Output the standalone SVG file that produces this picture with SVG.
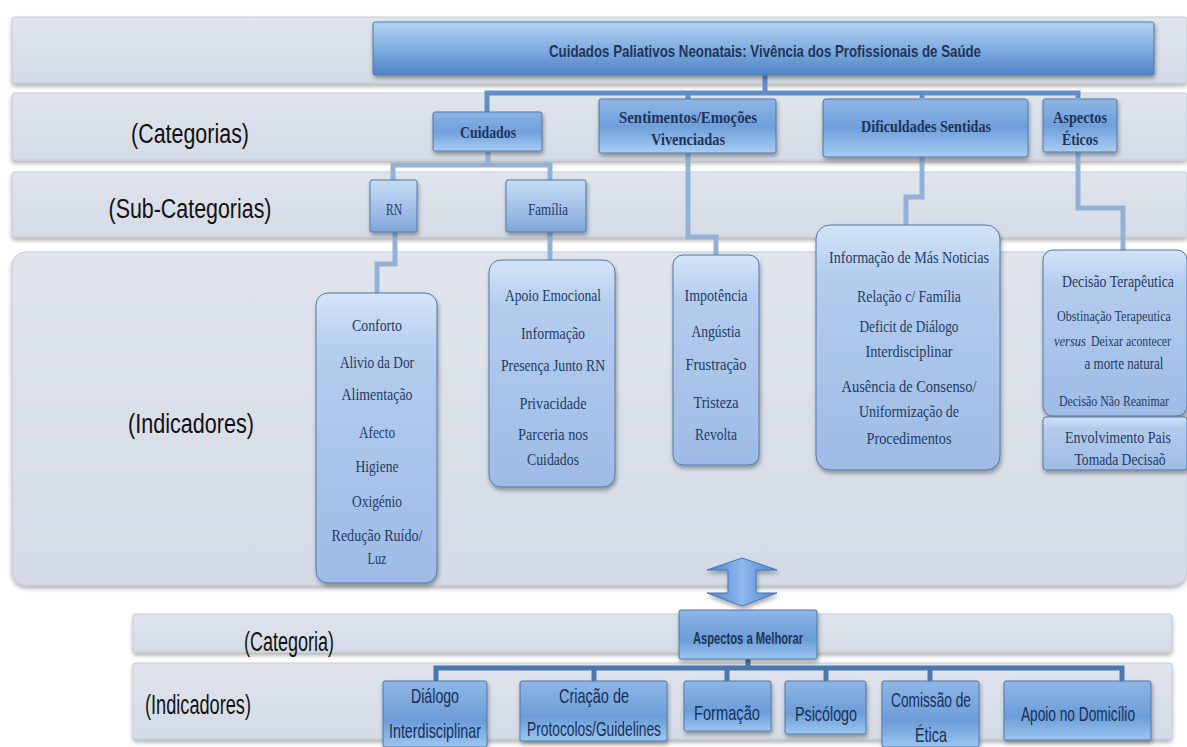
<svg xmlns="http://www.w3.org/2000/svg" width="1187" height="747" viewBox="0 0 1187 747">
<defs>
<linearGradient id="gBand" x1="0" y1="0" x2="0" y2="1"><stop offset="0" stop-color="#dfe4ed"/><stop offset="1" stop-color="#d5dbe6"/></linearGradient>
<linearGradient id="gTitle" x1="0" y1="0" x2="0" y2="1"><stop offset="0" stop-color="#b5d3f3"/><stop offset="0.45" stop-color="#86b1e4"/><stop offset="1" stop-color="#4e83c4"/></linearGradient>
<linearGradient id="gCat" x1="0" y1="0" x2="0" y2="1"><stop offset="0" stop-color="#8db6e6"/><stop offset="0.5" stop-color="#6f9fdb"/><stop offset="1" stop-color="#a7cdf3"/></linearGradient>
<linearGradient id="gSub" x1="0" y1="0" x2="0" y2="1"><stop offset="0" stop-color="#c6dcf4"/><stop offset="0.5" stop-color="#a5c3ea"/><stop offset="1" stop-color="#7fa6d8"/></linearGradient>
<linearGradient id="gInd" x1="0" y1="0" x2="0" y2="1"><stop offset="0" stop-color="#d4e4f7"/><stop offset="0.2" stop-color="#b4cdee"/><stop offset="1" stop-color="#9dbbe5"/></linearGradient>
<linearGradient id="gBot" x1="0" y1="0" x2="0" y2="1"><stop offset="0" stop-color="#8fb6e6"/><stop offset="0.6" stop-color="#6c9dd8"/><stop offset="1" stop-color="#9cc6f0"/></linearGradient>
<linearGradient id="gArrow" x1="0" y1="0" x2="1" y2="0"><stop offset="0" stop-color="#4a84d0"/><stop offset="0.5" stop-color="#8fb8ee"/><stop offset="1" stop-color="#4a84d0"/></linearGradient>
<filter id="sh" x="-10%" y="-10%" width="130%" height="140%"><feDropShadow dx="1" dy="3" stdDeviation="2" flood-color="#000" flood-opacity="0.35"/></filter>
<filter id="shb" x="-5%" y="-10%" width="110%" height="140%"><feDropShadow dx="0" dy="3" stdDeviation="2" flood-color="#000" flood-opacity="0.3"/></filter>
</defs>
<style>
.band{fill:url(#gBand);stroke:#c4cbd6;stroke-width:1}
.lbl{font-family:"Liberation Sans",Arial,sans-serif;font-size:27px;fill:#111;text-anchor:middle}
.box{stroke:#4f78a8;stroke-width:1}
.cat{font-family:"Liberation Serif","DejaVu Serif",serif;font-weight:bold;font-size:17px;fill:#1f3457;text-anchor:middle}
.sans{font-family:"Liberation Sans",Arial,sans-serif}
.ind{font-family:"Liberation Serif","DejaVu Serif",serif;font-size:17px;fill:#243b63;text-anchor:middle}
.et{font-size:14px}
.bot{font-family:"Liberation Sans",Arial,sans-serif;font-size:21px;fill:#16305a;text-anchor:middle}
.con{fill:none;stroke:#93b1d6;stroke-width:5}
.conD{fill:none;stroke:#5f8fc8;stroke-width:5}
.conB{fill:none;stroke:#4a78ae;stroke-width:5}
</style>
<rect width="1187" height="747" fill="#fff"/>
<g id="bands">
<rect class="band" x="12" y="17" width="1175" height="66" rx="3" filter="url(#shb)"/>
<rect class="band" x="12" y="93" width="1175" height="67" rx="3" filter="url(#shb)"/>
<rect class="band" x="12" y="172" width="1175" height="65" rx="3" filter="url(#shb)"/>
<rect class="band" x="12" y="252" width="1175" height="333" rx="14" filter="url(#shb)"/>
<rect class="band" x="133" y="614" width="1039" height="38" rx="3" filter="url(#shb)"/>
<rect class="band" x="133" y="663" width="1039" height="76" rx="3" filter="url(#shb)"/>
</g>
<g id="labels">
<text class="lbl" x="190" y="143" textLength="118" lengthAdjust="spacingAndGlyphs">(Categorias)</text>
<text class="lbl" x="190" y="218" textLength="163" lengthAdjust="spacingAndGlyphs">(Sub-Categorias)</text>
<text class="lbl" x="191" y="433" textLength="126" lengthAdjust="spacingAndGlyphs">(Indicadores)</text>
<text class="lbl" x="289" y="651" textLength="90" lengthAdjust="spacingAndGlyphs">(Categoria)</text>
<text class="lbl" x="198" y="714" textLength="106" lengthAdjust="spacingAndGlyphs">(Indicadores)</text>
</g>
<g id="connectors">
<path class="conD" d="M765,75 V93 M487,112 V93 H1078 V98 M688,93 V99 M922,93 V98"/>
<path class="con" d="M488,152 V165 M393,180 V165 H550 V180"/>
<path class="con" d="M395,232 V264 H377 V293"/>
<path class="con" d="M550,232 V260"/>
<path class="con" d="M688,153 V237 H716 V255"/>
<path class="con" d="M922,157 V197 H906 V225"/>
<path class="con" d="M1078,152 V208 H1123 V250"/>
<path class="conB" d="M748,659 V668 M436,681 V668 H1122 V681 M594,668 V681 M727,668 V681 M826,668 V681 M930,668 V681"/>
<path d="M742,558 L777,570 H756 V593 H777 L742,606 L707,593 H728 V570 H707 Z" fill="url(#gArrow)" stroke="#3f74bd" stroke-width="1" filter="url(#sh)"/>
</g>
<g id="n-title">
<rect class="box" x="373" y="22" width="781" height="53" rx="2" fill="url(#gTitle)" filter="url(#sh)"/>
<text class="cat sans" x="765" y="57" font-size="16" textLength="432" lengthAdjust="spacingAndGlyphs">Cuidados Paliativos Neonatais: Vivência dos Profissionais de Saúde</text>
</g>
<g id="n-cuidados">
<rect class="box" x="433" y="112" width="109" height="39" rx="2" fill="url(#gCat)" filter="url(#sh)"/>
<text class="cat" x="488" y="138" textLength="56" lengthAdjust="spacingAndGlyphs">Cuidados</text>
</g>
<g id="n-sentimentos">
<rect class="box" x="599" y="99" width="177" height="54" rx="2" fill="url(#gCat)" filter="url(#sh)"/>
<text class="cat" x="688" y="123" textLength="138" lengthAdjust="spacingAndGlyphs">Sentimentos/Emoções</text>
<text class="cat" x="688" y="145" textLength="74" lengthAdjust="spacingAndGlyphs">Vivenciadas</text>
</g>
<g id="n-dificuldades">
<rect class="box" x="823" y="99" width="205" height="58" rx="3" fill="url(#gCat)" filter="url(#sh)"/>
<text class="cat" x="926" y="132" textLength="130" lengthAdjust="spacingAndGlyphs">Dificuldades Sentidas</text>
</g>
<g id="n-eticos">
<rect class="box" x="1043" y="99" width="74" height="53" rx="2" fill="url(#gCat)" filter="url(#sh)"/>
<text class="cat" x="1080" y="123" textLength="54" lengthAdjust="spacingAndGlyphs">Aspectos</text>
<text class="cat" x="1080" y="145" textLength="36" lengthAdjust="spacingAndGlyphs">Éticos</text>
</g>
<g id="n-rn">
<rect class="box" x="370" y="180" width="47" height="52" rx="2" fill="url(#gSub)" filter="url(#sh)"/>
<text class="ind" x="394" y="215" font-size="14" textLength="16" lengthAdjust="spacingAndGlyphs">RN</text>
</g>
<g id="n-familia">
<rect class="box" x="506" y="180" width="80" height="52" rx="2" fill="url(#gSub)" filter="url(#sh)"/>
<text class="ind" x="548" y="215" font-size="14" textLength="40" lengthAdjust="spacingAndGlyphs">Família</text>
</g>
<g id="n-rn-ind">
<rect class="box" x="316" y="293" width="121" height="290" rx="12" fill="url(#gInd)" filter="url(#sh)"/>
<text class="ind" x="377" y="331" textLength="50" lengthAdjust="spacingAndGlyphs">Conforto</text>
<text class="ind" x="377" y="368" textLength="74" lengthAdjust="spacingAndGlyphs">Alivio da Dor</text>
<text class="ind" x="377" y="400" textLength="71" lengthAdjust="spacingAndGlyphs">Alimentação</text>
<text class="ind" x="377" y="438" textLength="36" lengthAdjust="spacingAndGlyphs">Afecto</text>
<text class="ind" x="377" y="472" textLength="43" lengthAdjust="spacingAndGlyphs">Higiene</text>
<text class="ind" x="377" y="507" textLength="50" lengthAdjust="spacingAndGlyphs">Oxigénio</text>
<text class="ind" x="377" y="541" textLength="91" lengthAdjust="spacingAndGlyphs">Redução Ruído/</text>
<text class="ind" x="377" y="564" textLength="19" lengthAdjust="spacingAndGlyphs">Luz</text>
</g>
<g id="n-familia-ind">
<rect class="box" x="489" y="260" width="126" height="227" rx="12" fill="url(#gInd)" filter="url(#sh)"/>
<text class="ind" x="553" y="301" textLength="96" lengthAdjust="spacingAndGlyphs">Apoio Emocional</text>
<text class="ind" x="553" y="339" textLength="64" lengthAdjust="spacingAndGlyphs">Informação</text>
<text class="ind" x="553" y="371" textLength="104" lengthAdjust="spacingAndGlyphs">Presença Junto RN</text>
<text class="ind" x="553" y="409" textLength="67" lengthAdjust="spacingAndGlyphs">Privacidade</text>
<text class="ind" x="553" y="440" textLength="70" lengthAdjust="spacingAndGlyphs">Parceria nos</text>
<text class="ind" x="553" y="465" textLength="52" lengthAdjust="spacingAndGlyphs">Cuidados</text>
</g>
<g id="n-sent-ind">
<rect class="box" x="673" y="255" width="86" height="210" rx="10" fill="url(#gInd)" filter="url(#sh)"/>
<text class="ind" x="716" y="301" textLength="63" lengthAdjust="spacingAndGlyphs">Impotência</text>
<text class="ind" x="716" y="337" textLength="49" lengthAdjust="spacingAndGlyphs">Angústia</text>
<text class="ind" x="716" y="370" textLength="61" lengthAdjust="spacingAndGlyphs">Frustração</text>
<text class="ind" x="716" y="408" textLength="45" lengthAdjust="spacingAndGlyphs">Tristeza</text>
<text class="ind" x="716" y="440" textLength="42" lengthAdjust="spacingAndGlyphs">Revolta</text>
</g>
<g id="n-dif-ind">
<rect class="box" x="816" y="225" width="184" height="245" rx="14" fill="url(#gInd)" filter="url(#sh)"/>
<text class="ind" x="909" y="263" textLength="160" lengthAdjust="spacingAndGlyphs">Informação de Más  Noticias</text>
<text class="ind" x="909" y="302" textLength="104" lengthAdjust="spacingAndGlyphs">Relação c/ Família</text>
<text class="ind" x="909" y="332" textLength="99" lengthAdjust="spacingAndGlyphs">Deficit de Diálogo</text>
<text class="ind" x="909" y="357" textLength="87" lengthAdjust="spacingAndGlyphs">Interdisciplinar</text>
<text class="ind" x="909" y="392" textLength="135" lengthAdjust="spacingAndGlyphs">Ausência  de Consenso/</text>
<text class="ind" x="909" y="417" textLength="100" lengthAdjust="spacingAndGlyphs">Uniformização de</text>
<text class="ind" x="909" y="444" textLength="85" lengthAdjust="spacingAndGlyphs">Procedimentos</text>
</g>
<g id="n-etic-ind">
<rect class="box" x="1043" y="250" width="144" height="166" rx="10" fill="url(#gInd)" filter="url(#sh)"/>
<text class="ind" x="1118" y="287" font-size="15" textLength="112" lengthAdjust="spacingAndGlyphs">Decisão Terapêutica</text>
<text class="ind et" x="1114" y="321" textLength="114" lengthAdjust="spacingAndGlyphs">Obstinação Terapeutica</text>
<text class="ind et" x="1070" y="346" font-style="italic" textLength="32" lengthAdjust="spacingAndGlyphs">versus</text>
<text class="ind et" x="1131" y="346" textLength="80" lengthAdjust="spacingAndGlyphs">Deixar acontecer</text>
<text class="ind" x="1124" y="369" font-size="15" textLength="79" lengthAdjust="spacingAndGlyphs">a morte natural</text>
<text class="ind et" x="1114" y="406" textLength="110" lengthAdjust="spacingAndGlyphs">Decisão Não Reanimar</text>
</g>
<g id="n-envolvimento">
<rect class="box" x="1043" y="417" width="144" height="53" rx="3" fill="url(#gInd)" filter="url(#sh)"/>
<text class="ind" x="1118" y="443" textLength="106" lengthAdjust="spacingAndGlyphs">Envolvimento Pais</text>
<text class="ind" x="1120" y="465" textLength="91" lengthAdjust="spacingAndGlyphs">Tomada Decisaõ</text>
</g>
<g id="n-melhorar">
<rect class="box" x="679" y="610" width="138" height="49" rx="2" fill="url(#gBot)" filter="url(#sh)"/>
<text class="cat sans" x="748" y="644" font-size="16" textLength="110" lengthAdjust="spacingAndGlyphs">Aspectos a Melhorar</text>
</g>
<g id="n-dialogo">
<rect class="box" x="383" y="681" width="104" height="66" rx="2" fill="url(#gBot)" filter="url(#sh)"/>
<text class="bot" x="435" y="703" textLength="48" lengthAdjust="spacingAndGlyphs">Diálogo</text>
<text class="bot" x="435" y="738" font-size="17" textLength="92" lengthAdjust="spacingAndGlyphs">Interdisciplinar</text>
</g>
<g id="n-criacao">
<rect class="box" x="520" y="681" width="147" height="60" rx="2" fill="url(#gBot)" filter="url(#sh)"/>
<text class="bot" x="594" y="703" textLength="70" lengthAdjust="spacingAndGlyphs">Criação de</text>
<text class="bot" x="594" y="736" font-size="17" textLength="134" lengthAdjust="spacingAndGlyphs">Protocolos/Guidelines</text>
</g>
<g id="n-formacao">
<rect class="box" x="684" y="681" width="87" height="50" rx="2" fill="url(#gBot)" filter="url(#sh)"/>
<text class="bot" x="727" y="720" font-size="19" textLength="66" lengthAdjust="spacingAndGlyphs">Formação</text>
</g>
<g id="n-psicologo">
<rect class="box" x="785" y="681" width="81" height="53" rx="2" fill="url(#gBot)" filter="url(#sh)"/>
<text class="bot" x="826" y="721" font-size="19" textLength="62" lengthAdjust="spacingAndGlyphs">Psicólogo</text>
</g>
<g id="n-comissao">
<rect class="box" x="882" y="681" width="97" height="66" rx="2" fill="url(#gBot)" filter="url(#sh)"/>
<text class="bot" x="931" y="707" font-size="19" textLength="80" lengthAdjust="spacingAndGlyphs">Comissão de</text>
<text class="bot" x="931" y="742" textLength="32" lengthAdjust="spacingAndGlyphs">Ética</text>
</g>
<g id="n-apoio">
<rect class="box" x="1004" y="681" width="147" height="59" rx="2" fill="url(#gBot)" filter="url(#sh)"/>
<text class="bot" x="1078" y="721" font-size="19" textLength="114" lengthAdjust="spacingAndGlyphs">Apoio no Domicílio</text>
</g>
</svg>
